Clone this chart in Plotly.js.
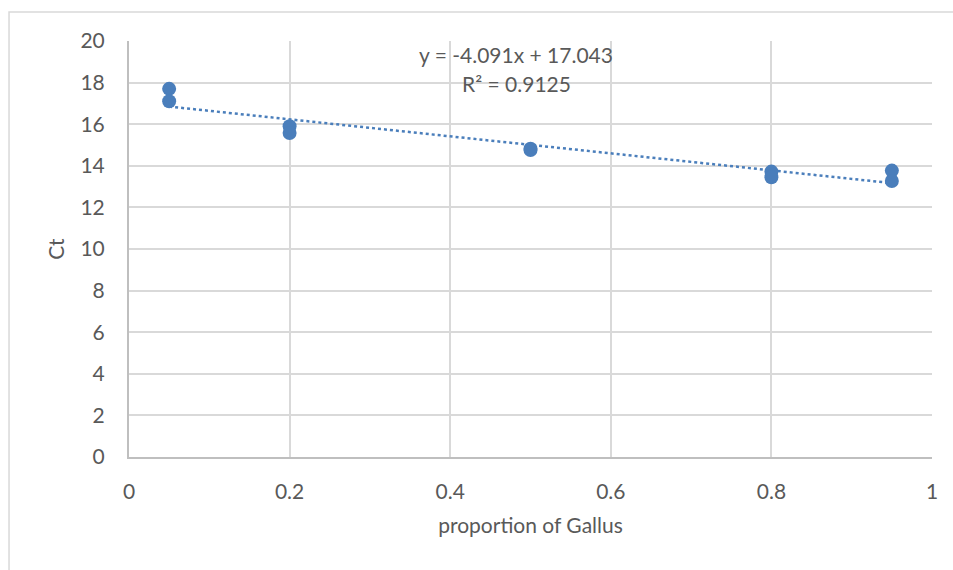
<!DOCTYPE html>
<html>
<head>
<meta charset="utf-8">
<script src="https://cdn.plot.ly/plotly-3.0.1.min.js"></script>
<style>html,body{margin:0;padding:0;background:#fff;}#chart{width:953px;height:570px;}</style>
</head>
<body>
<div id="chart"></div>
<script>
const proportion = [0.05, 0.05, 0.2, 0.2, 0.5, 0.5, 0.8, 0.8, 0.95, 0.95];
const ct = [17.70, 17.10, 15.90, 15.58, 14.82, 14.76, 13.72, 13.45, 13.77, 13.27];
const xTicks = [0, 0.2, 0.4, 0.6, 0.8, 1];
const xTickLabels = ['0', '0.2', '0.4', '0.6', '0.8', '1'];
const yTicks = [0, 2, 4, 6, 8, 10, 12, 14, 16, 18, 20];
const eqText = 'y = -4.091x + 17.043';
const r2Text = 'R² = 0.9125';

// least squares fit for trendline
const n = proportion.length;
const mx = proportion.reduce((a, b) => a + b, 0) / n;
const my = ct.reduce((a, b) => a + b, 0) / n;
let sxy = 0, sxx = 0;
for (let i = 0; i < n; i++) { sxy += (proportion[i] - mx) * (ct[i] - my); sxx += (proportion[i] - mx) ** 2; }
const slope = sxy / sxx, intercept = my - slope * mx;
const xMin = Math.min(...proportion), xMax = Math.max(...proportion);
const trendX = [xMin, xMax];
const trendY = trendX.map(x => intercept + slope * x);

const blue = '#4a7ebb';
const gray = '#595959';
const font = 'Lato, "Open Sans", sans-serif';

const data = [
  {x: trendX, y: trendY, type: 'scatter', mode: 'lines',
   line: {color: blue, width: 2.5, dash: 'dot'}, hoverinfo: 'skip', showlegend: false},
  {x: proportion, y: ct, type: 'scatter', mode: 'markers',
   marker: {color: blue, size: 14}, showlegend: false}
];

const layout = {
  width: 953, height: 570,
  margin: {l: 129, r: 21, t: 41, b: 113},
  paper_bgcolor: '#fff', plot_bgcolor: '#fff',
  font: {family: font, color: gray, size: 21},
  xaxis: {
    range: [0, 1], tickvals: xTicks, ticktext: xTickLabels,
    showgrid: true, gridcolor: '#d9d9d9', gridwidth: 2,
    showline: true, linecolor: '#bfbfbf', linewidth: 2,
    zeroline: false, ticks: '', ticklen: 0, ticklabelstandoff: 15,
    tickfont: {family: font, size: 21, color: gray},
    title: {text: 'proportion of Gallus', font: {family: font, size: 21, color: gray}, standoff: 16}
  },
  yaxis: {
    range: [0, 20], tickvals: yTicks,
    showgrid: true, gridcolor: '#d9d9d9', gridwidth: 2,
    showline: true, linecolor: '#bfbfbf', linewidth: 2,
    zeroline: false, ticks: '', ticklen: 0, ticklabelstandoff: 18,
    tickfont: {family: font, size: 21, color: gray},
    title: {text: 'Ct', font: {family: font, size: 21, color: gray}, standoff: 10}
  },
  annotations: [
    {x: 0.482, y: 19.33, xref: 'x', yref: 'y', text: eqText, showarrow: false,
     font: {family: font, size: 21, color: gray}, xanchor: 'center', yanchor: 'middle'},
    {x: 0.482, y: 17.98, xref: 'x', yref: 'y', text: r2Text, showarrow: false,
     font: {family: font, size: 21, color: gray}, xanchor: 'center', yanchor: 'middle'}
  ],
  shapes: [
    {type: 'rect', xref: 'paper', yref: 'paper', x0: -0.1494, x1: 1.1, y0: -0.4, y1: 1.0697,
     line: {color: '#d9d9d9', width: 1.5}, fillcolor: 'rgba(0,0,0,0)', layer: 'below'}
  ]
};

Plotly.newPlot('chart', data, layout, {displayModeBar: false, staticPlot: true});
</script>
</body>
</html>
